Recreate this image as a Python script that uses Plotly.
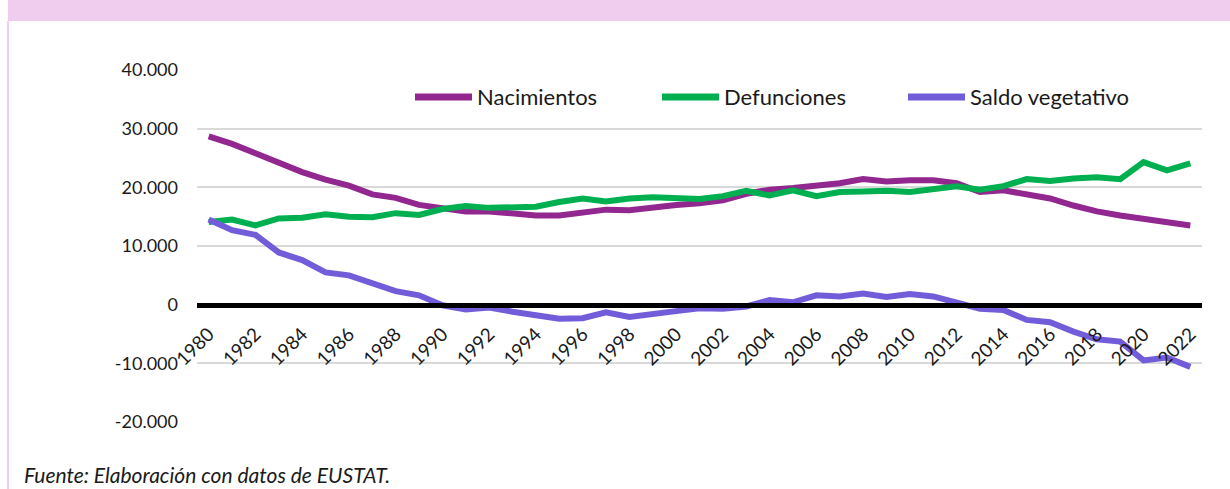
import plotly.graph_objects as go

years = list(range(1980, 2023))

nacimientos = [
    28700, 27400, 25800, 24200, 22600, 21300, 20300, 18800, 18200, 17000,
    16500, 15900, 15900, 15600, 15200, 15200, 15800, 16200, 16100, 16600,
    17000, 17300, 17800, 18900, 19600, 19900, 20200, 20700, 21400, 21000,
    21200, 21200, 20700, 19200, 19500, 18800, 18100, 16900, 15900, 15200,
    14600, 14200, 13500,
]

defunciones = [
    14100, 14500, 13500, 14700, 14800, 15400, 15000, 14900, 15600, 15300,
    16300, 16800, 16500, 16700, 16700, 17500, 18100, 17600, 18100, 18300,
    18200, 18000, 18500, 19400, 18600, 19500, 18500, 19200, 19300, 19400,
    19200, 19800, 20200, 19600, 20200, 21400, 21100, 21500, 21700, 21400,
    24300, 22900, 24100,
]

saldo = [
    14500, 12700, 11900, 8900, 7600, 5500, 5000, 3600, 2300, 1600,
    -100, -800, -500, -1200, -1700, -2400, -2300, -1300, -2100, -1700,
    -1100, -600, -700, -300, 800, 400, 1600, 1400, 1900, 1300,
    1800, 1400, 300, -700, -900, -2600, -3000, -4600, -5900, -6300,
    -9500, -9000, -10600,
]

y_ticks = [-20000, -10000, 0, 10000, 20000, 30000, 40000]
y_labels = ["-20.000", "-10.000", "0", "10.000", "20.000", "30.000", "40.000"]

series = [
    ("Nacimientos", nacimientos, "#92278F"),
    ("Defunciones", defunciones, "#00B050"),
    ("Saldo vegetativo", saldo, "#735CD9"),
]

font = "Lato, 'Open Sans', sans-serif"
text_color = "#1a1a1a"

# plot area: x 197..1202 px, y 70..422 px
W, H = 1230, 489
L, R, T, B = 197, 28, 70, 67
pw, ph = W - L - R, H - T - B


def px_x(p):
    return (p - L) / pw


def px_y(p):
    return (H - B - p) / ph


fig = go.Figure()
for name, vals, color in series:
    fig.add_trace(go.Scatter(
        x=years, y=vals, name=name, mode="lines",
        line=dict(color=color, width=6), showlegend=False,
    ))

# legend drawn by hand so the keys get Excel's longer line samples
legend_left = [415, 662, 908]
shapes = [
    dict(type="rect", xref="paper", yref="paper",
         x0=px_x(8), x1=px_x(W + 5), y0=px_y(21), y1=px_y(-5),
         fillcolor="#F0CCEE", line=dict(width=0), layer="below"),
    dict(type="line", xref="paper", yref="paper",
         x0=px_x(8), x1=px_x(8), y0=px_y(21), y1=px_y(H + 5),
         line=dict(color="#F0CCEE", width=2)),
]
annotations = [
    dict(text="<i>Fuente: Elaboración con datos de EUSTAT.</i>",
         xref="paper", yref="paper", x=px_x(22), y=px_y(474),
         xanchor="left", yanchor="middle", showarrow=False,
         font=dict(size=21, color=text_color)),
]
for (name, vals, color), x0 in zip(series, legend_left):
    shapes.append(dict(type="line", xref="paper", yref="paper",
                       x0=px_x(x0), x1=px_x(x0 + 57), y0=px_y(97), y1=px_y(97),
                       line=dict(color=color, width=7)))
    annotations.append(dict(text=name, xref="paper", yref="paper",
                            x=px_x(x0 + 60), y=px_y(97),
                            xanchor="left", yanchor="middle", showarrow=False,
                            font=dict(size=22, color=text_color)))

fig.update_layout(
    width=W, height=H,
    margin=dict(l=L, r=R, t=T, b=B),
    paper_bgcolor="white", plot_bgcolor="white",
    font=dict(family=font, size=18, color=text_color),
    showlegend=False,
    xaxis=dict(
        range=[1979.5, 2022.5], tick0=1980, dtick=2,
        anchor="free", position=1 / 3,
        showgrid=False, zeroline=False,
        showline=True, linewidth=5, linecolor="black",
        ticks="", tickangle=-45, ticklabelstandoff=8,
        tickfont=dict(size=19, color=text_color),
    ),
    yaxis=dict(
        range=[-20000, 40000], tickvals=y_ticks, ticktext=y_labels,
        showgrid=True, gridcolor="#D9D9D9", gridwidth=1.5,
        zeroline=False, showline=False, ticks="", ticklabelstandoff=18,
        tickfont=dict(size=18, color=text_color),
    ),
    shapes=shapes,
    annotations=annotations,
)

fig.write_html("out.html", config={"displayModeBar": False},
               post_script="document.body.style.margin='0';")
